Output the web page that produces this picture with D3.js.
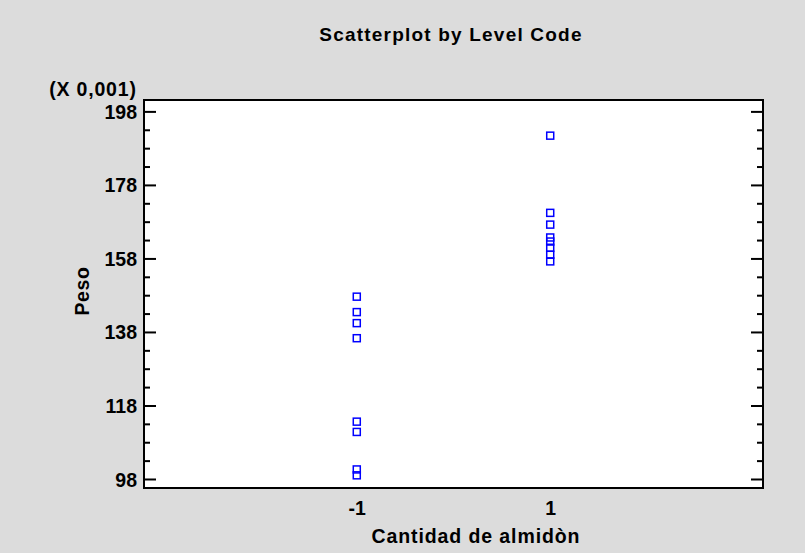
<!DOCTYPE html>
<html>
<head>
<meta charset="utf-8">
<script src="https://cdn.jsdelivr.net/npm/d3@7"></script>
<style>
  body { margin: 0; background: #dcdcdc; }
  svg text { font-family: "Liberation Sans", Arial, sans-serif; font-weight: bold; fill: #000; }
</style>
</head>
<body>
<div id="chart"></div>
<script>
// data (Peso x 0,001)
var levels = [-1, 1];
var pesoLow = [147.6, 143.4, 140.4, 136.3, 113.6, 110.8, 100.6, 99.0];
var pesoHigh = [191.4, 170.4, 167.2, 163.7, 162.6, 160.9, 159.0, 157.2];
var yTicks = [98, 118, 138, 158, 178, 198];

var width = 805, height = 553;
var margin = {top: 100, right: 42, bottom: 65, left: 144};
var w = width - margin.left - margin.right,
    h = height - margin.top - margin.bottom;

var svg = d3.select("#chart")
  .append("svg")
    .attr("width", width)
    .attr("height", height);

svg.append("rect")
  .attr("width", width)
  .attr("height", height)
  .attr("fill", "#dcdcdc");

var g = svg.append("g")
  .attr("transform", "translate(" + margin.left + "," + margin.top + ")");

var x = d3.scaleLinear()
  .domain([-3.2, 3.2])
  .range([0, w]);

var y = d3.scaleLinear()
  .domain([95.55, 201.1])
  .range([h, 0]);

// plot background
g.append("rect")
  .attr("width", w)
  .attr("height", h)
  .attr("fill", "white");

// minor ticks every 5
var minor = d3.range(98, 201, 5).filter(function(d) { return yTicks.indexOf(d) < 0; });

g.append("g")
  .call(d3.axisRight(y).tickValues(minor).tickSize(6).tickFormat(""))
  .call(function(a) { a.select(".domain").remove(); a.selectAll("line").attr("stroke-width", 2); });
g.append("g")
  .attr("transform", "translate(" + w + ",0)")
  .call(d3.axisLeft(y).tickValues(minor).tickSize(6).tickFormat(""))
  .call(function(a) { a.select(".domain").remove(); a.selectAll("line").attr("stroke-width", 2); });

// major ticks
g.append("g")
  .call(d3.axisRight(y).tickValues(yTicks).tickSize(12).tickFormat(""))
  .call(function(a) { a.select(".domain").remove(); a.selectAll("line").attr("stroke-width", 2); });
g.append("g")
  .attr("transform", "translate(" + w + ",0)")
  .call(d3.axisLeft(y).tickValues(yTicks).tickSize(12).tickFormat(""))
  .call(function(a) { a.select(".domain").remove(); a.selectAll("line").attr("stroke-width", 2); });

// y tick labels
g.append("g")
  .call(d3.axisLeft(y).tickValues(yTicks).tickSize(0).tickPadding(7).tickFormat(function(d) { return String(d); }))
  .call(function(a) {
    a.select(".domain").remove();
    a.selectAll("text").style("font-size", "19.5px").attr("dy", "0.36em");
  });

// x tick labels (no tick marks)
g.append("g")
  .attr("transform", "translate(0," + h + ")")
  .call(d3.axisBottom(x).tickValues(levels).tickSize(0).tickPadding(13).tickFormat(function(d) { return String(d); }))
  .call(function(a) {
    a.select(".domain").remove();
    a.selectAll("text").style("font-size", "19.5px");
  });

// frame
g.append("rect")
  .attr("width", w)
  .attr("height", h)
  .attr("fill", "none")
  .attr("stroke", "black")
  .attr("stroke-width", 2);

// points
var pts = pesoLow.map(function(v) { return {lev: levels[0], peso: v}; })
  .concat(pesoHigh.map(function(v) { return {lev: levels[1], peso: v}; }));

g.append("g")
  .selectAll("rect")
  .data(pts)
  .enter()
  .append("rect")
    .attr("x", function(d) { return x(d.lev) - 3.5; })
    .attr("y", function(d) { return y(d.peso) - 3.5; })
    .attr("width", 7)
    .attr("height", 7)
    .attr("fill", "none")
    .attr("stroke", "#0000ff")
    .attr("stroke-width", 1.5);

// title and labels
svg.append("text")
  .attr("x", 451)
  .attr("y", 41)
  .attr("text-anchor", "middle")
  .style("font-size", "19px")
  .style("letter-spacing", "1.2px")
  .text("Scatterplot by Level Code");

svg.append("text")
  .attr("x", 93)
  .attr("y", 96)
  .attr("text-anchor", "middle")
  .style("font-size", "19.5px")
  .style("letter-spacing", "0.8px")
  .text("(X 0,001)");

svg.append("text")
  .attr("transform", "translate(89,291) rotate(-90)")
  .attr("text-anchor", "middle")
  .style("font-size", "19.5px")
  .style("letter-spacing", "0.6px")
  .text("Peso");

svg.append("text")
  .attr("x", 476)
  .attr("y", 543)
  .attr("text-anchor", "middle")
  .style("font-size", "19.5px")
  .style("letter-spacing", "0.9px")
  .text("Cantidad de almidòn");
</script>
</body>
</html>
